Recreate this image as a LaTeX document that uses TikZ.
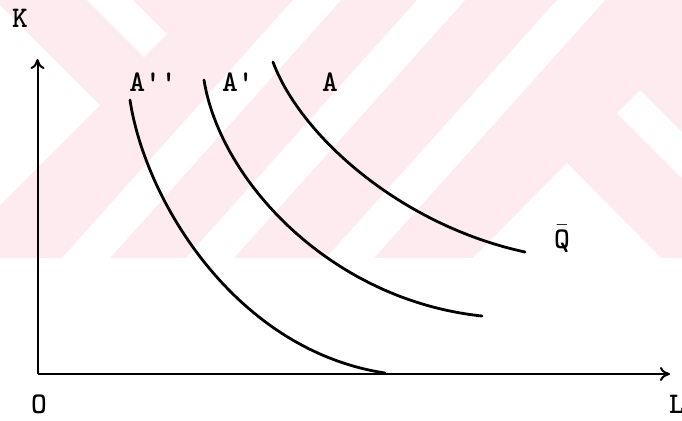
\documentclass[tikz,border=0pt]{standalone}
\usepackage{fontspec}
\usepackage{tikz}
\usetikzlibrary{arrows.meta}

\definecolor{wmpink}{RGB}{253,235,239}

\tikzset{
  axis/.style={line width=1pt, -{To[length=5pt, width=7pt]}},
  isoquant/.style={line width=1.4pt, line cap=round},
  lbl/.style={font=\ttfamily\bfseries\fontsize{15}{18}\selectfont, inner sep=0pt},
  band/.style={fill=white}
}

\begin{document}
\begin{tikzpicture}[x=0.5pt, y=-0.5pt]

    % picture frame (pixel grid, y downwards)
    \useasboundingbox (0,0) rectangle (682,420);

    % ==========================================
    % watermark in the background
    % ==========================================
    \fill[wmpink] (0,0) rectangle (682,258);
    \fill[band] (87,0) -- (133,0) -- (167,34) -- (144,57) -- cycle;
    \fill[band] (0,5) -- (100,105) -- (0,205) -- cycle;
    \fill[band] (293,0) -- (341,0) -- (110,258) -- (62,258) -- cycle;
    \fill[band] (417,0) -- (465,0) -- (234,258) -- (186,258) -- cycle;
    \fill[band] (557,0) -- (605,0) -- (374,258) -- (326,258) -- cycle;
    \fill[band] (473,258) -- (567,163) -- (661,258) -- cycle;
    \fill[band] (640,90) -- (682,132) -- (682,178) -- (617,113) -- cycle;

    % ==========================================
    % axes
    % ==========================================
    \coordinate (orig) at (37.5,374);
    \coordinate (ktip) at (37.5,59);
    \coordinate (ltip) at (670,374);

    \draw[axis] (orig) -- (ktip);
    \draw[axis] (orig) -- (ltip);

    \node[lbl] (klab) at (20,18)   {K};
    \node[lbl] (olab) at (39,404)  {O};
    \node[lbl] (llab) at (677,404) {L};

    % ==========================================
    % isoquants for the same output
    % ==========================================
    \draw[isoquant] (130,100) .. controls (145,200) and (235,350) .. (385,373); % A''
    \draw[isoquant] (204,80)  .. controls (220,180) and (330,300) .. (482,316); % A'
    \draw[isoquant] (273,62)  .. controls (300,135) and (400,225) .. (525,252); % A

    \node[lbl] (app) at (153,82) {A''};
    \node[lbl] (ap)  at (238,82) {A'};
    \node[lbl] (a)   at (330,82) {A};
    \node[lbl] (qbar) at (562,239) {$\bar{\hbox{Q}}$};

\end{tikzpicture}
\end{document}
